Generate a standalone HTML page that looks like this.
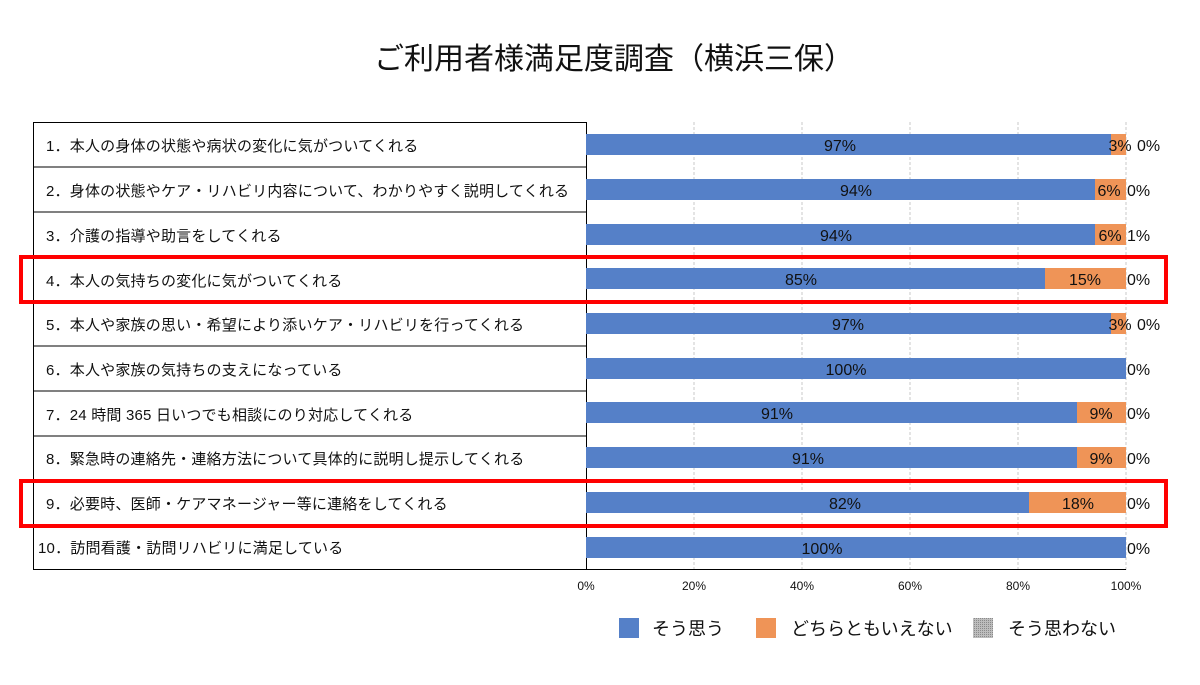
<!DOCTYPE html>
<html><head><meta charset="utf-8"><style>
body{margin:0;background:#fff;}
text{font-family:"Liberation Sans","Noto Sans CJK JP",sans-serif;}
</style></head><body>
<svg width="1200" height="680" xmlns="http://www.w3.org/2000/svg">
<defs><pattern id="dots" width="2" height="2" patternUnits="userSpaceOnUse"><rect width="2" height="2" fill="#bdbdbd"/><rect width="1" height="1" fill="#8a8a8a"/></pattern></defs>
<rect width="1200" height="680" fill="#fff"/>
<text x="614" y="69" font-size="30" text-anchor="middle" fill="#111">ご利用者様満足度調査（横浜三保）</text>
<g stroke="#c8c8c8" stroke-width="1" stroke-dasharray="3,2">
<line x1="694" y1="122" x2="694" y2="570"/><line x1="802" y1="122" x2="802" y2="570"/>
<line x1="910" y1="122" x2="910" y2="570"/><line x1="1018" y1="122" x2="1018" y2="570"/>
<line x1="1126" y1="122" x2="1126" y2="570"/>
</g>
<g stroke="#000" stroke-width="1" fill="none">
<rect x="33.5" y="122.5" width="553" height="447"/>
<line x1="33" y1="167" x2="586" y2="167"/><line x1="33" y1="212" x2="586" y2="212"/>
<line x1="33" y1="257" x2="586" y2="257"/><line x1="33" y1="301" x2="586" y2="301"/>
<line x1="33" y1="346" x2="586" y2="346"/><line x1="33" y1="391" x2="586" y2="391"/>
<line x1="33" y1="436" x2="586" y2="436"/><line x1="33" y1="480" x2="586" y2="480"/>
<line x1="33" y1="525" x2="586" y2="525"/>
<line x1="586" y1="569.5" x2="1126" y2="569.5"/>
</g>
<g font-size="15" fill="#111" letter-spacing="0.2">
<text x="46" y="151">1．本人の身体の状態や病状の変化に気がついてくれる</text>
<text x="46" y="196">2．身体の状態やケア・リハビリ内容について、わかりやすく説明してくれる</text>
<text x="46" y="241">3．介護の指導や助言をしてくれる</text>
<text x="46" y="286">4．本人の気持ちの変化に気がついてくれる</text>
<text x="46" y="330">5．本人や家族の思い・希望により添いケア・リハビリを行ってくれる</text>
<text x="46" y="375">6．本人や家族の気持ちの支えになっている</text>
<text x="46" y="420">7．24 時間 365 日いつでも相談にのり対応してくれる</text>
<text x="46" y="464">8．緊急時の連絡先・連絡方法について具体的に説明し提示してくれる</text>
<text x="46" y="509">9．必要時、医師・ケアマネージャー等に連絡をしてくれる</text>
<text x="38" y="553">10．訪問看護・訪問リハビリに満足している</text>
</g>
<g font-size="16" fill="#111">
<rect x="586" y="134" width="525" height="21" fill="#5580c8"/><rect x="1111" y="134" width="15" height="21" fill="#ef9457"/>
<text x="840" y="151" text-anchor="middle">97%</text><text x="1120" y="151" text-anchor="middle">3%</text><text x="1137" y="151">0%</text>
<rect x="586" y="179" width="509" height="21" fill="#5580c8"/><rect x="1095" y="179" width="31" height="21" fill="#ef9457"/>
<text x="856" y="196" text-anchor="middle">94%</text><text x="1109" y="196" text-anchor="middle">6%</text><text x="1127" y="196">0%</text>
<rect x="586" y="224" width="509" height="21" fill="#5580c8"/><rect x="1095" y="224" width="31" height="21" fill="#ef9457"/>
<text x="836" y="241" text-anchor="middle">94%</text><text x="1110" y="241" text-anchor="middle">6%</text><text x="1127" y="241">1%</text>
<rect x="586" y="268" width="459" height="21" fill="#5580c8"/><rect x="1045" y="268" width="81" height="21" fill="#ef9457"/>
<text x="801" y="285" text-anchor="middle">85%</text><text x="1085" y="285" text-anchor="middle">15%</text><text x="1127" y="285">0%</text>
<rect x="586" y="313" width="525" height="21" fill="#5580c8"/><rect x="1111" y="313" width="15" height="21" fill="#ef9457"/>
<text x="848" y="330" text-anchor="middle">97%</text><text x="1120" y="330" text-anchor="middle">3%</text><text x="1137" y="330">0%</text>
<rect x="586" y="358" width="540" height="21" fill="#5580c8"/>
<text x="846" y="375" text-anchor="middle">100%</text><text x="1127" y="375">0%</text>
<rect x="586" y="402" width="491" height="21" fill="#5580c8"/><rect x="1077" y="402" width="49" height="21" fill="#ef9457"/>
<text x="777" y="419" text-anchor="middle">91%</text><text x="1101" y="419" text-anchor="middle">9%</text><text x="1127" y="419">0%</text>
<rect x="586" y="447" width="491" height="21" fill="#5580c8"/><rect x="1077" y="447" width="49" height="21" fill="#ef9457"/>
<text x="808" y="464" text-anchor="middle">91%</text><text x="1101" y="464" text-anchor="middle">9%</text><text x="1127" y="464">0%</text>
<rect x="586" y="492" width="443" height="21" fill="#5580c8"/><rect x="1029" y="492" width="97" height="21" fill="#ef9457"/>
<text x="845" y="509" text-anchor="middle">82%</text><text x="1078" y="509" text-anchor="middle">18%</text><text x="1127" y="509">0%</text>
<rect x="586" y="537" width="540" height="21" fill="#5580c8"/>
<text x="822" y="554" text-anchor="middle">100%</text><text x="1127" y="554">0%</text>
</g>
<g fill="none" stroke="#f00" stroke-width="4">
<rect x="21" y="257" width="1145" height="45"/>
<rect x="21" y="481" width="1145" height="45"/>
</g>
<g font-size="12" fill="#111" text-anchor="middle">
<text x="586" y="590">0%</text><text x="694" y="590">20%</text><text x="802" y="590">40%</text>
<text x="910" y="590">60%</text><text x="1018" y="590">80%</text><text x="1126" y="590">100%</text>
</g>
<g font-size="18" fill="#111">
<rect x="619" y="618" width="20" height="20" fill="#5580c8"/><text x="652" y="635">そう思う</text>
<rect x="756" y="618" width="20" height="20" fill="#ef9457"/><text x="791" y="635">どちらともいえない</text>
<rect x="973" y="618" width="20" height="20" fill="url(#dots)"/><text x="1008" y="635">そう思わない</text>
</g>
</svg>
</body></html>
